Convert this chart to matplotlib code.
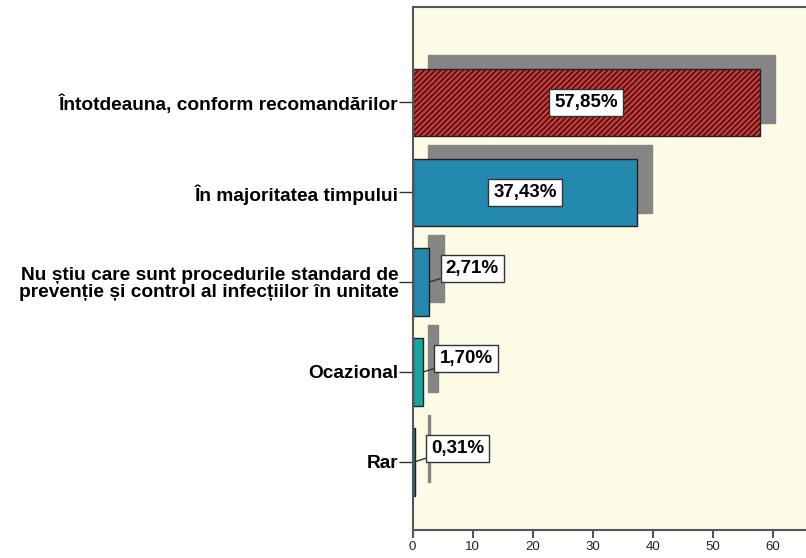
import matplotlib.pyplot as plt

categories = [
    "Întotdeauna, conform recomandărilor",
    "În majoritatea timpului",
    "Nu știu care sunt procedurile standard de\nprevenție și control al infecțiilor în unitate",
    "Ocazional",
    "Rar",
]
values = [57.85, 37.43, 2.71, 1.70, 0.31]
labels = ["57,85%", "37,43%", "2,71%", "1,70%", "0,31%"]
colors = ["#e8302e", "#2389ae", "#2389ae", "#17a5a0", "#2389ae"]
hatches = ["//////", None, None, None, None]
ticks = [0, 10, 20, 30, 40, 50, 60]

plt.rcParams['font.family'] = ['Liberation Sans', 'DejaVu Sans']
plt.rcParams['hatch.linewidth'] = 1.2

fig = plt.figure(figsize=(8.06, 5.58), dpi=100)
ax = fig.add_axes([0.512, 0.05, 0.488, 0.937])
ax.set_facecolor("#fdfbe6")

ypos = list(range(len(categories)))
h = 0.75

# umbra barelor
ax.barh([y - 0.15 for y in ypos], values, height=h, left=2.5,
        color="#858585", edgecolor="#858585", linewidth=1, zorder=1)

# barele principale
for y, v, c, ht in zip(ypos, values, colors, hatches):
    ax.barh(y, v, height=h, color=c, edgecolor="#222222", linewidth=1,
            hatch=ht, zorder=2)

box = dict(boxstyle="square,pad=0.27", fc="white", ec="#333333", lw=1)
for y, v, lab in zip(ypos, values, labels):
    if v > 10:
        ax.text(v / 2, y, lab, ha="center", va="center", fontsize=13.5,
                fontweight="bold", bbox=box, zorder=4)
    else:
        tx = 7.2 + v
        ax.annotate(lab, xy=(v, y), xytext=(tx, y - 0.15),
                    ha="center", va="center", fontsize=13.5, fontweight="bold",
                    bbox=box, zorder=4,
                    arrowprops=dict(arrowstyle="-", color="#333333", lw=1,
                                    shrinkA=0, shrinkB=0))

ax.set_yticks(ypos)
ax.set_yticklabels(categories, fontsize=13.8, fontweight="bold", linespacing=0.95)
ax.set_ylim(4.76, -1.06)
ax.set_xlim(0, 65.5)
ax.set_xticks(ticks)
ax.set_xticklabels([str(t) for t in ticks], fontsize=9.5, color="#222222")
ax.tick_params(axis="y", length=10, width=1, pad=0, color="#333333")
ax.tick_params(axis="x", length=6, width=1.5, pad=2, color="#555555")
for s in ["left", "bottom", "top"]:
    ax.spines[s].set_color("#555555")
    ax.spines[s].set_linewidth(1.5)
ax.spines["right"].set_visible(False)

plt.savefig("out.png", dpi=100)
